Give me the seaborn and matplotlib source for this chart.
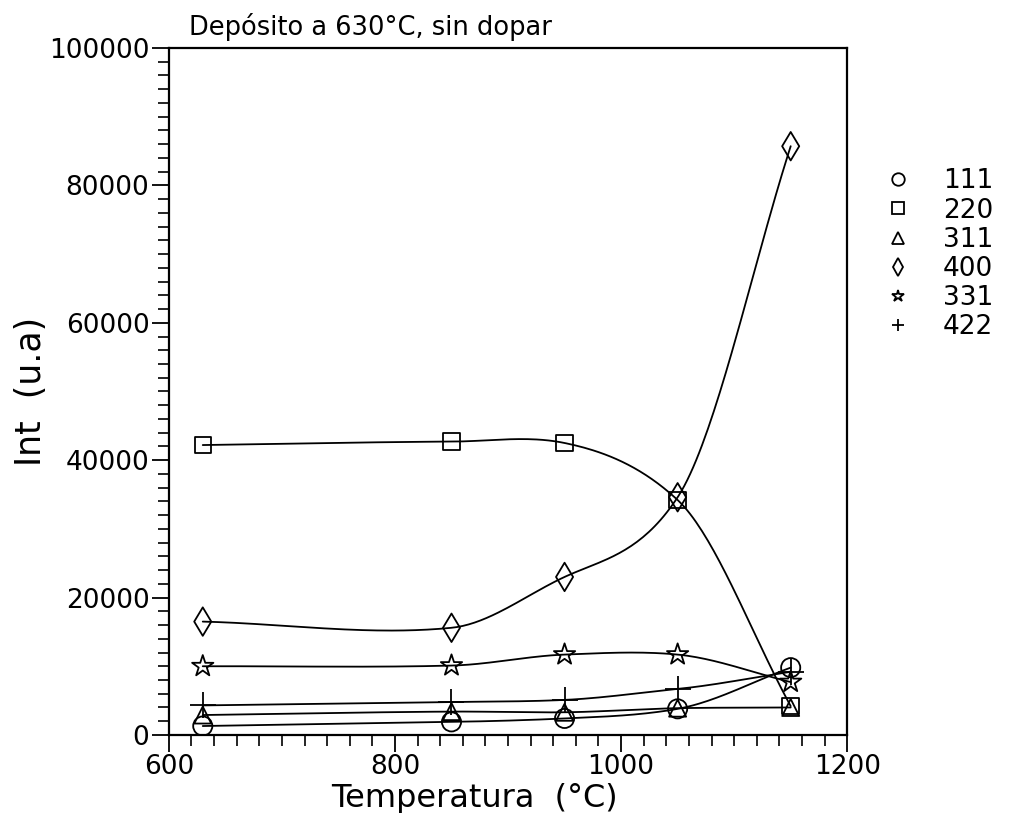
import numpy as np
import pandas as pd
import matplotlib
matplotlib.use("Agg")
import matplotlib.pyplot as plt
from matplotlib.lines import Line2D
from matplotlib.ticker import MultipleLocator
import seaborn as sns

# ---- data ----
temperatures = [630, 850, 950, 1050, 1150]
series_labels = ["111", "220", "311", "400", "331", "422"]
int_111 = [1300, 1900, 2400, 3800, 9800]
int_220 = [42200, 42700, 42500, 34200, 4200]
int_311 = [2900, 3400, 3300, 3900, 4000]
int_400 = [16500, 15600, 23000, 34600, 85700]
int_331 = [10000, 10100, 11700, 11700, 7700]
int_422 = [4300, 4800, 5100, 6700, 9200]

title_text = "Depósito a 630°C, sin dopar"
x_label = "Temperatura  (°C)"
y_label = "Int  (u.a)"
x_ticks = [600, 800, 1000, 1200]
y_ticks = [0, 20000, 40000, 60000, 80000, 100000]

markers = {"111": "o", "220": "s", "311": "^", "400": "d", "331": "*", "422": "+"}
values = {"111": int_111, "220": int_220, "311": int_311,
          "400": int_400, "331": int_331, "422": int_422}


def smooth_curve(x, y, n=200, tension=0.8):
    """Cardinal Hermite spline through the points, for drawing the connecting line."""
    x = np.asarray(x, float); y = np.asarray(y, float)
    k = len(x)
    m = np.empty(k)
    m[0] = (y[1] - y[0]) / (x[1] - x[0])
    m[-1] = (y[-1] - y[-2]) / (x[-1] - x[-2])
    for i in range(1, k - 1):
        m[i] = tension * (y[i + 1] - y[i - 1]) / (x[i + 1] - x[i - 1])
    xs = np.linspace(x[0], x[-1], n)
    ys = np.empty_like(xs)
    for j, xv in enumerate(xs):
        i = min(np.searchsorted(x, xv, side="right") - 1, k - 2)
        h = x[i + 1] - x[i]
        t = (xv - x[i]) / h
        h00 = 2 * t ** 3 - 3 * t ** 2 + 1
        h10 = t ** 3 - 2 * t ** 2 + t
        h01 = -2 * t ** 3 + 3 * t ** 2
        h11 = t ** 3 - t ** 2
        ys[j] = h00 * y[i] + h10 * h * m[i] + h01 * y[i + 1] + h11 * h * m[i + 1]
    return xs, ys


sns.set_style("ticks")
plt.rcParams["font.family"] = ["DejaVu Sans"]
plt.rcParams["text.color"] = "black"
plt.rcParams["axes.labelcolor"] = "black"
plt.rcParams["xtick.color"] = "black"
plt.rcParams["ytick.color"] = "black"

fig = plt.figure(figsize=(10.11, 8.13), dpi=100)
ax = fig.add_axes([0.167, 0.096, 0.671, 0.845])

for lab in series_labels:
    xs, ys = smooth_curve(temperatures, values[lab])
    sns.lineplot(x=xs, y=ys, ax=ax, color="black", linewidth=1.3, sort=False)

sizes = {"o": 190, "s": 140, "^": 150, "d": 210, "*": 260, "+": 330}
for lab in series_labels:
    mk = markers[lab]
    if mk == "+":
        sns.scatterplot(x=temperatures, y=values[lab], ax=ax, marker=mk, s=sizes[mk],
                        color="black", linewidth=1.3, zorder=3)
    else:
        sns.scatterplot(x=temperatures, y=values[lab], ax=ax, marker=mk, s=sizes[mk],
                        facecolor="none", edgecolor="black", linewidth=1.3, zorder=3)

ax.set_xlim(600, 1200)
ax.set_ylim(0, 100000)
ax.set_xticks(x_ticks)
ax.set_yticks(y_ticks)
ax.xaxis.set_minor_locator(MultipleLocator(20))
ax.yaxis.set_minor_locator(MultipleLocator(2000))
ax.tick_params(which="major", direction="out", length=12, width=1.3, labelsize=19, pad=2,
               colors="black")
ax.tick_params(which="minor", direction="out", length=8, width=1.2)
ax.tick_params(top=False, right=False)
for sp in ax.spines.values():
    sp.set_visible(True)
    sp.set_linewidth(1.6)
    sp.set_color("black")

ax.set_xlabel(x_label, fontsize=23, labelpad=2)
ax.xaxis.set_label_coords(0.45, -0.07)
ax.set_ylabel(y_label, fontsize=25)
ax.yaxis.set_label_coords(-0.178, 0.5)

ax.text(0.03, 1.01, title_text, transform=ax.transAxes, fontsize=18.5,
        ha="left", va="bottom")

handles = []
for lab in series_labels:
    mk = markers[lab]
    handles.append(Line2D([], [], linestyle="none", marker=mk, markersize=9,
                          markerfacecolor="none", markeredgecolor="black",
                          markeredgewidth=1.3, color="black"))
leg = ax.legend(handles, series_labels, loc="upper left", bbox_to_anchor=(1.04, 0.84),
                frameon=False, fontsize=19, handletextpad=1.2, labelspacing=0.12,
                handlelength=1.0, borderaxespad=0)

fig.savefig("out.png", dpi=100)
